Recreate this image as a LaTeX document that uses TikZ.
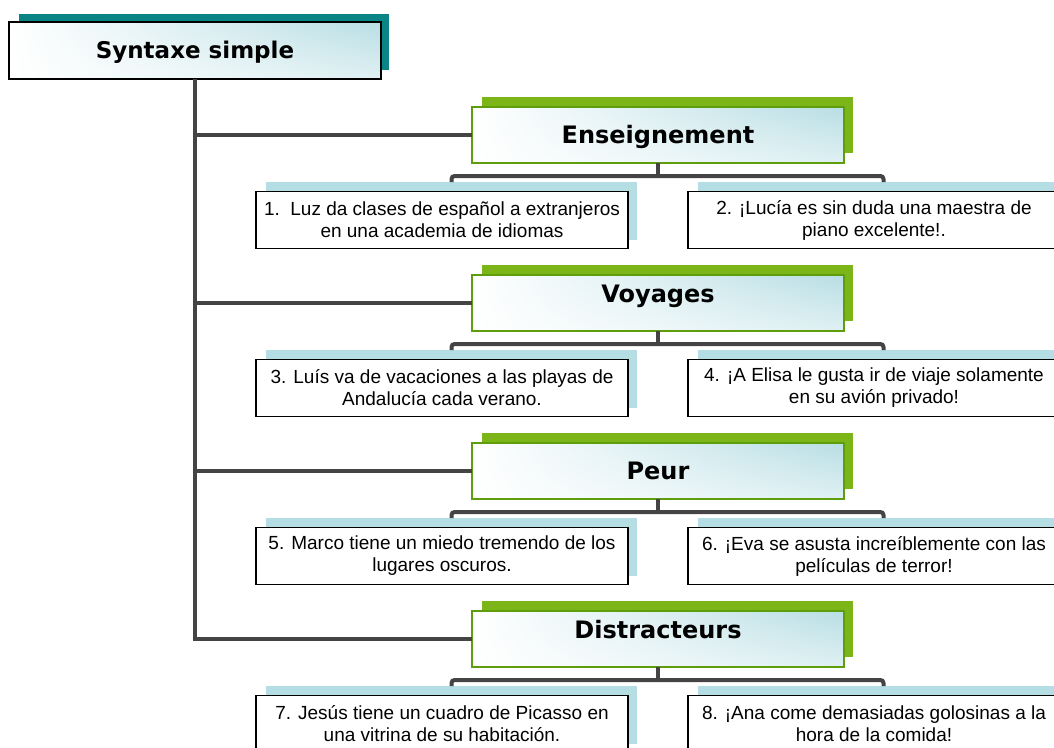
\documentclass[tikz,border=0pt]{standalone}
\usepackage{fontspec}
\setmainfont{Liberation Sans}
\newfontfamily\titlefont{DejaVu Sans}
\usetikzlibrary{shadings}
\definecolor{tealc}{HTML}{0A8585}
\definecolor{greenc}{HTML}{7CB518}
\definecolor{greenb}{HTML}{5E9E0C}
\definecolor{lblue}{HTML}{B5DEE4}
\definecolor{gradc}{HTML}{B8DEE4}
\definecolor{linegray}{HTML}{444444}
\tikzset{
  conn/.style={draw=linegray, line width=4pt, rounded corners=3pt},
  boxbase/.style={rectangle, inner sep=0pt, outer sep=0pt},
  rootback/.style={boxbase, fill=tealc, minimum width=370pt, minimum height=56pt},
  rootfront/.style={boxbase, draw=black, line width=1.5pt,
    lower left=white, upper left=white, upper right=gradc, lower right=gradc!45!white,
    minimum width=372pt, minimum height=57pt,
    font=\titlefont\bfseries\fontsize{23}{26}\selectfont, text height=15pt, text depth=0pt},
  titleback/.style={boxbase, fill=greenc, minimum width=371pt, minimum height=56pt},
  titlefront/.style={boxbase, draw=greenb, line width=1.5pt,
    lower left=white, upper left=white, upper right=gradc, lower right=gradc!45!white,
    minimum width=372pt, minimum height=56pt,
    font=\titlefont\bfseries\fontsize{24}{27}\selectfont},
  titlelow/.style={titlefront, text height=17pt, text depth=0pt},
  titlehigh/.style={titlefront, text height=0pt, text depth=2pt},
  childback/.style={boxbase, fill=lblue, minimum width=371pt, minimum height=58pt},
  childfront/.style={boxbase, draw=black, line width=1.5pt, fill=white,
    minimum width=372pt, minimum height=57pt, align=center,
    font=\fontsize{19}{22}\selectfont},
}
\begin{document}
\begin{tikzpicture}[x=1pt,y=-1pt]
\useasboundingbox (0,0) rectangle (1054,747);
\clip (0,0) rectangle (1054,747);
% root
\node[rootback] (rootb) at (204,42) {};
\node[rootfront] (root) at (195,50.5) {Syntaxe simple};
% level boxes
\foreach \k/\T/\sty/\ttl/\la/\ra in {
  1/107/titlelow/Enseignement/{1.\ \ Luz da clases de español a extranjeros\\en una academia de idiomas}/{2. ¡Lucía es sin duda una maestra de\\piano excelente!.},
  2/275/titlehigh/Voyages/{3. Luís va de vacaciones a las playas de\\Andalucía cada verano.}/{4. ¡A Elisa le gusta ir de viaje solamente\\en su avión privado!},
  3/443/titlelow/Peur/{5. Marco tiene un miedo tremendo de los\\lugares oscuros.}/{6. ¡Eva se asusta increíblemente con las\\películas de terror!},
  4/611/titlehigh/Distracteurs/{7. Jesús tiene un cuadro de Picasso en\\una vitrina de su habitación.}/{8. ¡Ana come demasiadas golosinas a la\\hora de la comida!}}{
  \node[titleback] (tb\k) at (667.5,\T+18) {};
  \node[\sty] (t\k) at (658,\T+28) {\ttl};
  \node[childback] (lb\k) at (451.5,\T+104) {};
  \node[childfront] (l\k) at (442,\T+113) {\la};
  \node[childback] (rb\k) at (883.5,\T+104) {};
  \node[childfront] (r\k) at (874,\T+113) {\ra};
  \draw[conn] (t\k.south) -- ++(0,13) coordinate (bus\k);
  \draw[conn] (lb\k.north) |- (bus\k) -| (rb\k.north);
}
% trunk and branches
\draw[conn, rounded corners=0pt] (root.south) |- (t4.west);
\foreach \k in {1,2,3}{
  \draw[conn, rounded corners=0pt] (root.south |- t\k.west) -- (t\k.west);
}
\end{tikzpicture}
\end{document}
